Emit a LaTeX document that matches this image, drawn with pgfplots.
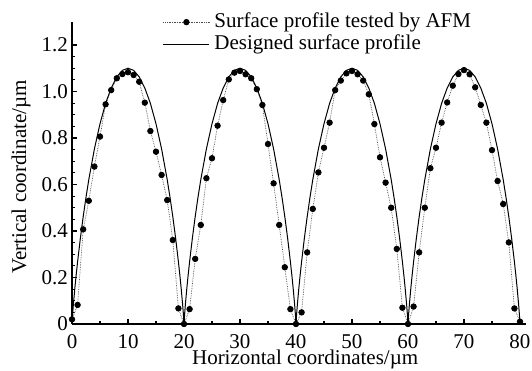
\documentclass[border=0pt]{standalone}
\usepackage{pgfplots}
\pgfplotsset{compat=1.18}
\usepackage{pgfplotstable}
\usepackage{fontspec}
\setmainfont{Liberation Serif}

\pgfplotstableread{
x y
0 0.02
1 0.082
2 0.407
3 0.53
4 0.677
5 0.806
6 0.945
7 1.006
8 1.057
9 1.075
10 1.083
11 1.071
12 1.042
13 0.952
14 0.83
15 0.741
16 0.641
17 0.533
18 0.361
19 0.067
20 0
21 0.064
22 0.28
23 0.426
24 0.627
25 0.713
26 0.853
27 0.963
28 1.052
29 1.081
30 1.088
31 1.074
32 1.057
33 1.01
34 0.942
35 0.774
36 0.605
37 0.426
38 0.244
39 0.064
40 0
41 0.05
42 0.308
43 0.495
44 0.652
45 0.758
46 0.866
47 1.006
48 1.047
49 1.078
50 1.088
51 1.074
52 1.047
53 0.988
54 0.86
55 0.717
56 0.608
57 0.5
58 0.323
59 0.07
60 0
61 0.075
62 0.308
63 0.5
64 0.67
65 0.758
66 0.866
67 0.953
68 1.025
69 1.075
70 1.092
71 1.074
72 1.018
73 0.942
74 0.866
75 0.748
76 0.615
77 0.516
78 0.351
79 0.067
80 0.01
}\afmdata

\pgfplotstableread{
x y
0 0
0.1 0.039
0.25 0.085
0.5 0.152
0.75 0.212
1 0.268
1.5 0.370
2 0.462
2.5 0.545
3 0.621
4 0.753
5 0.861
6 0.949
7 1.015
8 1.063
9 1.091
10 1.100
11 1.091
12 1.063
13 1.015
14 0.949
15 0.861
16 0.753
17 0.621
17.5 0.545
18 0.462
18.5 0.370
19 0.268
19.25 0.212
19.5 0.152
19.75 0.085
19.9 0.039
20 0
20.1 0.039
20.25 0.085
20.5 0.152
20.75 0.212
21 0.268
21.5 0.370
22 0.462
22.5 0.545
23 0.621
24 0.753
25 0.861
26 0.949
27 1.015
28 1.063
29 1.091
30 1.100
31 1.091
32 1.063
33 1.015
34 0.949
35 0.861
36 0.753
37 0.621
37.5 0.545
38 0.462
38.5 0.370
39 0.268
39.25 0.212
39.5 0.152
39.75 0.085
39.9 0.039
40 0
40.1 0.039
40.25 0.085
40.5 0.152
40.75 0.212
41 0.268
41.5 0.370
42 0.462
42.5 0.545
43 0.621
44 0.753
45 0.861
46 0.949
47 1.015
48 1.063
49 1.091
50 1.100
51 1.091
52 1.063
53 1.015
54 0.949
55 0.861
56 0.753
57 0.621
57.5 0.545
58 0.462
58.5 0.370
59 0.268
59.25 0.212
59.5 0.152
59.75 0.085
59.9 0.039
60 0
60.1 0.039
60.25 0.085
60.5 0.152
60.75 0.212
61 0.268
61.5 0.370
62 0.462
62.5 0.545
63 0.621
64 0.753
65 0.861
66 0.949
67 1.015
68 1.063
69 1.091
70 1.100
71 1.091
72 1.063
73 1.015
74 0.949
75 0.861
76 0.753
77 0.621
77.5 0.545
78 0.462
78.5 0.370
79 0.268
79.25 0.212
79.5 0.152
79.75 0.085
79.9 0.039
80 0
}\designdata

\begin{document}
\fontsize{21bp}{25bp}\selectfont
\begin{tikzpicture}
\begin{axis}[
  at={(72bp,47bp)},
  scale only axis,
  width=453.6bp, height=302.25bp,
  xmin=0, xmax=81, ymin=0, ymax=1.3,
  axis x line=bottom, axis y line=left,
  axis line style={-, line width=1.5bp},
  tick align=inside,
  major tick length=5bp, minor tick length=3bp,
  every tick/.style={black, line width=1.2bp},
  xtick={0,10,...,80}, minor x tick num=1,
  ytick={0,0.2,0.4,0.6,0.8,1.0,1.2},
  yticklabels={0,0.2,0.4,0.6,0.8,1.0,1.2},
  minor y tick num=3,
  /pgf/number format/assume math mode=true,
  tick label style={font=\fontsize{21bp}{25bp}\selectfont},
  xticklabel style={yshift=-3bp},
  yticklabel style={xshift=3bp},
  label style={font=\fontsize{21bp}{25bp}\selectfont},
  xlabel={Horizontal coordinates/µm},
  xlabel style={at={(axis description cs:0.514,0)}, anchor=north, inner sep=0pt, yshift=-26bp},
  ylabel={Vertical coordinate/µm},
  ylabel style={at={(axis description cs:-0.1124,0.487)}, anchor=center, inner sep=0pt},
  legend style={draw=none, fill=none, at={(axis description cs:0.2,1.034)}, anchor=north west,
    font=\fontsize{21bp}{22bp}\selectfont, row sep=1bp, inner sep=0pt,
    nodes={inner sep=1.5bp}},
  legend cell align=left,
  legend image code/.code={\draw[mark repeat=2,mark phase=2,#1] plot coordinates {(0bp,0bp) (23bp,0bp) (46bp,0bp)};},
  clip=false,
]
\addplot[black!70, densely dotted, line width=0.7bp, mark=*, mark size=2.8bp,
  mark options={solid, fill=black, draw=black}] table[x=x,y=y] {\afmdata};
\addlegendentry{\hspace{3bp}Surface profile tested by AFM}
\addplot[black, line width=1bp] table[x=x,y=y] {\designdata};
\addlegendentry{\hspace{3bp}Designed surface profile}
\end{axis}
\pgfresetboundingbox
\path[use as bounding box] (0,0) rectangle (532bp,371bp);
\end{tikzpicture}
\end{document}
